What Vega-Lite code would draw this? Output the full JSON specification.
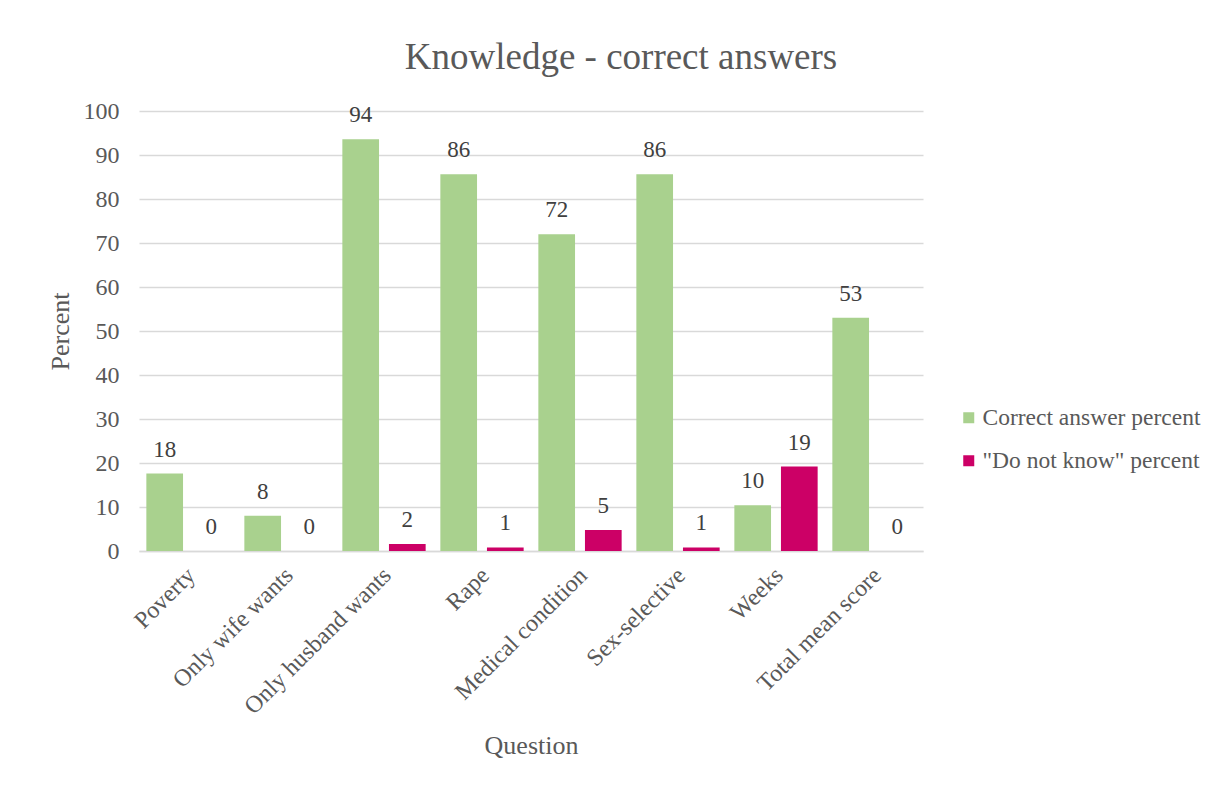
{
  "$schema": "https://vega.github.io/schema/vega-lite/v6.json",
  "width": 784,
  "height": 440,
  "autosize": "none",
  "padding": {"left": 139, "top": 111, "right": 295, "bottom": 236},
  "background": "white",
  "config": {
    "font": "Liberation Serif",
    "view": {"stroke": null},
    "axis": {"labelColor": "#595959", "titleColor": "#595959", "labelFont": "Liberation Serif", "titleFont": "Liberation Serif", "titleFontWeight": "normal"},
    "legend": {"labelFont": "Liberation Serif", "labelColor": "#595959"}
  },
  "title": {
    "text": "Knowledge - correct answers",
    "fontSize": 37,
    "fontWeight": "normal",
    "color": "#595959",
    "font": "Liberation Serif",
    "dx": 90,
    "offset": 22
  },
  "data": {
    "values": [
      {"question": "Poverty", "series": "Correct answer percent", "value": 17.6},
      {"question": "Poverty", "series": "\"Do not know\" percent", "value": 0},
      {"question": "Only wife wants", "series": "Correct answer percent", "value": 8.0},
      {"question": "Only wife wants", "series": "\"Do not know\" percent", "value": 0},
      {"question": "Only husband wants", "series": "Correct answer percent", "value": 93.6},
      {"question": "Only husband wants", "series": "\"Do not know\" percent", "value": 1.6},
      {"question": "Rape", "series": "Correct answer percent", "value": 85.6},
      {"question": "Rape", "series": "\"Do not know\" percent", "value": 0.8},
      {"question": "Medical condition", "series": "Correct answer percent", "value": 72.0},
      {"question": "Medical condition", "series": "\"Do not know\" percent", "value": 4.8},
      {"question": "Sex-selective", "series": "Correct answer percent", "value": 85.6},
      {"question": "Sex-selective", "series": "\"Do not know\" percent", "value": 0.8},
      {"question": "Weeks", "series": "Correct answer percent", "value": 10.4},
      {"question": "Weeks", "series": "\"Do not know\" percent", "value": 19.2},
      {"question": "Total mean score", "series": "Correct answer percent", "value": 53.0},
      {"question": "Total mean score", "series": "\"Do not know\" percent", "value": 0}
    ]
  },
  "encoding": {
    "x": {
      "field": "question",
      "type": "nominal",
      "sort": null,
      "scale": {"paddingInner": 0.15, "paddingOuter": 0.075},
      "axis": {
        "title": "Question",
        "titleFontSize": 26,
        "titlePadding": 14,
        "labelAngle": -45,
        "labelFontSize": 24,
        "labelPadding": 12,
        "labelOffset": -5,
        "labelLimit": 0,
        "ticks": false,
        "domainColor": "#d9d9d9",
        "domainWidth": 1.5
      }
    },
    "xOffset": {
      "field": "series",
      "type": "nominal",
      "sort": ["Correct answer percent", "\"Do not know\" percent"],
      "scale": {"paddingInner": 0.213, "paddingOuter": 0}
    },
    "y": {
      "field": "value",
      "type": "quantitative",
      "scale": {"domain": [0, 100]},
      "axis": {
        "title": "Percent",
        "titleFontSize": 26,
        "titlePadding": 10,
        "values": [0, 10, 20, 30, 40, 50, 60, 70, 80, 90, 100],
        "labelFontSize": 24,
        "labelPadding": 20,
        "ticks": false,
        "domain": false,
        "gridColor": "#d9d9d9",
        "gridWidth": 1.5
      }
    }
  },
  "layer": [
    {
      "mark": {"type": "bar"},
      "encoding": {
        "color": {
          "field": "series",
          "type": "nominal",
          "sort": ["Correct answer percent", "\"Do not know\" percent"],
          "scale": {"domain": ["Correct answer percent", "\"Do not know\" percent"], "range": ["#A9D18E", "#CC0066"]},
          "legend": {
            "title": null,
            "orient": "none",
            "legendX": 818,
            "legendY": 295,
            "symbolType": "square",
            "symbolSize": 121,
            "symbolStrokeWidth": 0,
            "labelFontSize": 23.5,
            "labelLimit": 0,
            "labelOffset": 2,
            "rowPadding": 18
          }
        }
      }
    },
    {
      "mark": {"type": "text", "baseline": "bottom", "dy": -12, "fontSize": 23, "color": "#404040", "font": "Liberation Serif"},
      "encoding": {
        "text": {"field": "value", "type": "quantitative", "format": ".0f"}
      }
    }
  ]
}
